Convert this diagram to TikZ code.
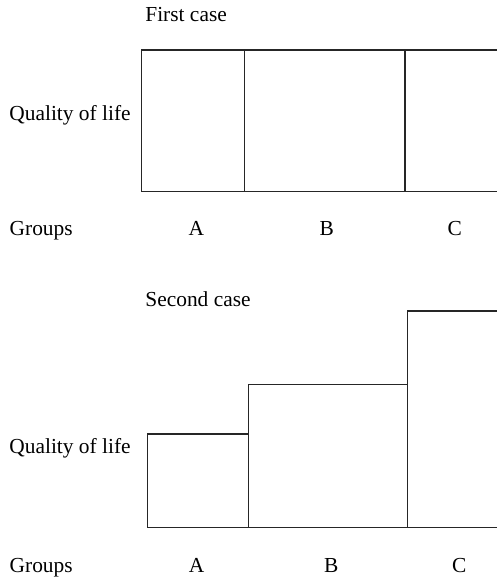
\documentclass[tikz,border=0pt]{standalone}
\usepackage{fontspec}
\setmainfont{Liberation Serif}

\begin{document}
\begin{tikzpicture}[x=0.5pt,y=-0.5pt,
  font=\fontsize{10.7}{12}\selectfont,
  lbl/.style={inner sep=0pt,anchor=base west},
  grp/.style={inner sep=0pt,anchor=base},
  bar/.style={draw=black!85,line width=0.55pt}]
\useasboundingbox (0,0) rectangle (497,578);

% first case
\node[lbl] (title1) at (145,21.7) {First case};
\node[lbl] (qol1) at (9,120) {Quality of life};
\draw[bar] (141.7,50) rectangle (244.3,191.7);
\draw[bar] (244.3,50) rectangle (405,191.7);
\draw[bar] (405,50) rectangle (530,191.7);
\node[lbl] (groups1) at (9.3,235.7) {Groups};
\node[grp] (a1) at (196.3,235.7) {A};
\node[grp] (b1) at (326.7,235.7) {B};
\node[grp] (c1) at (454.7,235.7) {C};

% second case
\node[lbl] (title2) at (145,306) {Second case};
\node[lbl] (qol2) at (9,453.3) {Quality of life};
\draw[bar] (147.3,434) rectangle (248.7,527.3);
\draw[bar] (248.7,384.3) rectangle (407.3,527.3);
\draw[bar] (407.3,311) rectangle (530,527.3);
\node[lbl] (groups2) at (9.3,572.3) {Groups};
\node[grp] (a2) at (196.7,572.3) {A};
\node[grp] (b2) at (331.2,572.3) {B};
\node[grp] (c2) at (459.3,572.3) {C};
\end{tikzpicture}
\end{document}
